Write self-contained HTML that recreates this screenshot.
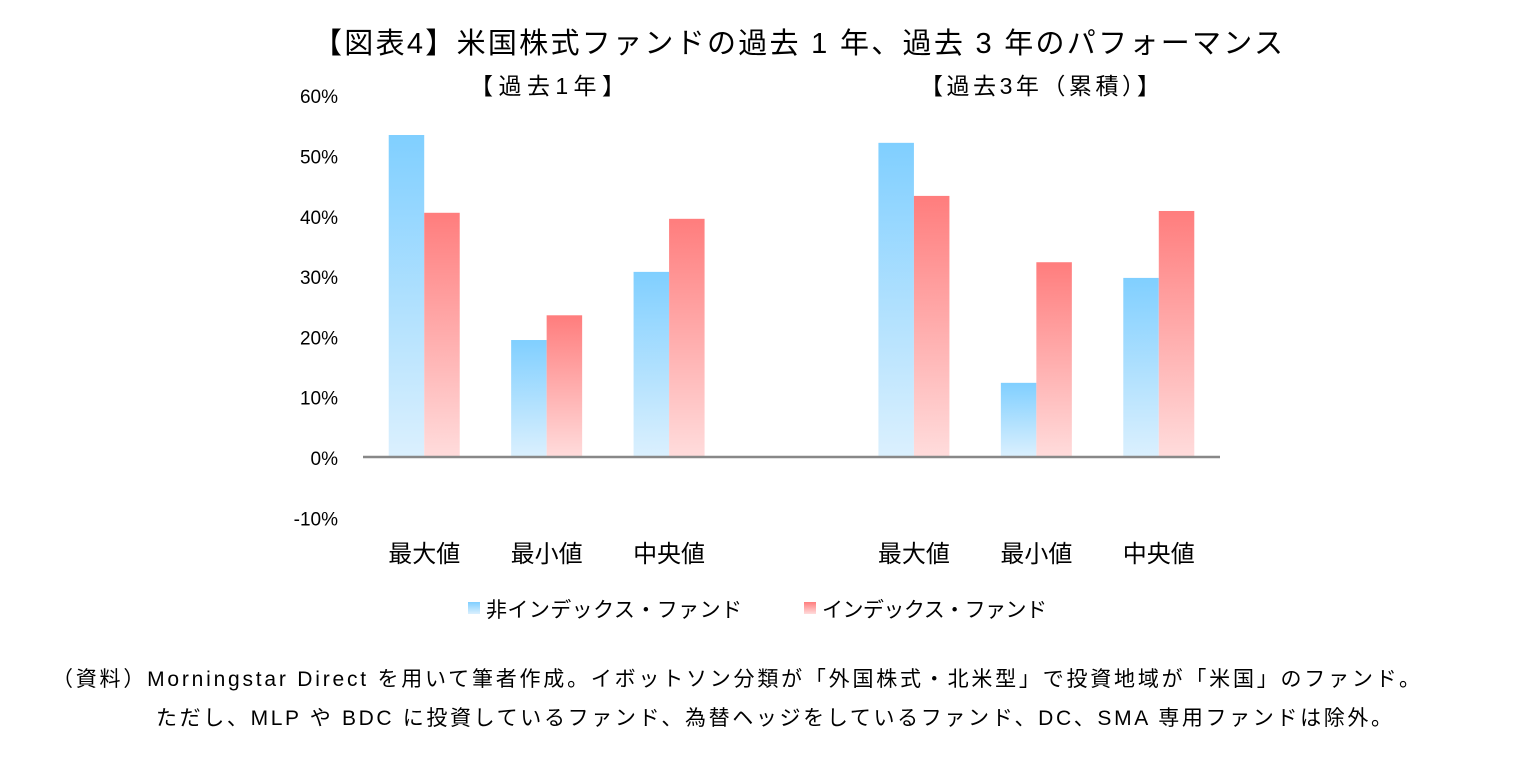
<!DOCTYPE html>
<html><head><meta charset="utf-8"><style>
html,body{margin:0;padding:0;background:#fff;}
body{width:1515px;height:761px;overflow:hidden;font-family:"Liberation Sans","Noto Sans CJK JP",sans-serif;}
svg text{font-family:"Liberation Sans","Noto Sans CJK JP",sans-serif;fill:#000;}
</style></head><body>
<svg width="1515" height="761">
<defs>
<linearGradient id="gb" x1="0" y1="0" x2="0" y2="1"><stop offset="0" stop-color="#80cfff"/><stop offset="1" stop-color="#dbf0fe"/></linearGradient>
<linearGradient id="gr" x1="0" y1="0" x2="0" y2="1"><stop offset="0" stop-color="#ff7d7d"/><stop offset="1" stop-color="#ffdcdc"/></linearGradient>
</defs>
<text x="313" y="53" font-size="29" textLength="970" lengthAdjust="spacing">【図表4】米国株式ファンドの過去 1 年、過去 3 年のパフォーマンス</text>
<text x="470" y="94" font-size="23" textLength="155" lengthAdjust="spacing">【過去1年】</text>
<text x="920" y="94" font-size="23" textLength="240" lengthAdjust="spacing">【過去3年（累積）】</text>
<g id="yaxis"></g>
<g id="bars"></g>
<line x1="363" y1="457" x2="1220" y2="457" stroke="#888" stroke-width="2.5"/>
<g id="xlabels"></g>
<rect x="468" y="602" width="12" height="12" fill="url(#gb)"/>
<text x="486" y="617" font-size="21" textLength="256" lengthAdjust="spacing">非インデックス・ファンド</text>
<rect x="804" y="602" width="12" height="12" fill="url(#gr)"/>
<text x="822" y="617" font-size="21" textLength="225" lengthAdjust="spacing">インデックス・ファンド</text>
<text x="52" y="686" font-size="21" textLength="1368" lengthAdjust="spacing">（資料）Morningstar Direct を用いて筆者作成。イボットソン分類が「外国株式・北米型」で投資地域が「米国」のファンド。</text>
<text x="156" y="725" font-size="21" textLength="1236" lengthAdjust="spacing">ただし、MLP や BDC に投資しているファンド、為替ヘッジをしているファンド、DC、SMA 専用ファンドは除外。</text>
</svg>
<script>
const categories = ["最大値","最小値","中央値","","最大値","最小値","中央値"];
const nonIndexValues = [53.4,19.4,30.7,null,52.1,12.3,29.7];
const indexValues = [40.5,23.5,39.5,null,43.3,32.3,40.8];
const yTicks = [60,50,40,30,20,10,0,-10];
const yTickLabels = ["60%","50%","40%","30%","20%","10%","0%","-10%"];
const NS="http://www.w3.org/2000/svg";
const x0=363,x1=1220,slot=(x1-x0)/categories.length,bw=35.5;
function y(v){return 457-v*6.03;}
const ya=document.getElementById('yaxis');
yTicks.forEach((t,i)=>{const e=document.createElementNS(NS,'text');
e.setAttribute('x',338);e.setAttribute('y',y(t)+8);e.setAttribute('font-size','19');e.setAttribute('text-anchor','end');


e.textContent=yTickLabels[i];ya.appendChild(e);});
const bg=document.getElementById('bars'),xl=document.getElementById('xlabels');
categories.forEach((c,i)=>{const cx=x0+slot*(i+0.5);
[[nonIndexValues[i],'url(#gb)',cx-bw,'bar-non-index'],[indexValues[i],'url(#gr)',cx,'bar-index']].forEach(([v,f,bx,n])=>{
if(v==null)return;const r=document.createElementNS(NS,'rect');
r.setAttribute('x',bx);r.setAttribute('width',bw);
r.setAttribute('y',Math.min(y(v),y(0)));r.setAttribute('height',Math.abs(y(v)-y(0)));r.setAttribute('fill',f);


bg.appendChild(r);});
if(c){const t=document.createElementNS(NS,'text');t.setAttribute('x',cx);t.setAttribute('y',562);t.setAttribute('font-size','24');t.setAttribute('text-anchor','middle');


t.textContent=c;xl.appendChild(t);}
});
</script>
</body></html>
